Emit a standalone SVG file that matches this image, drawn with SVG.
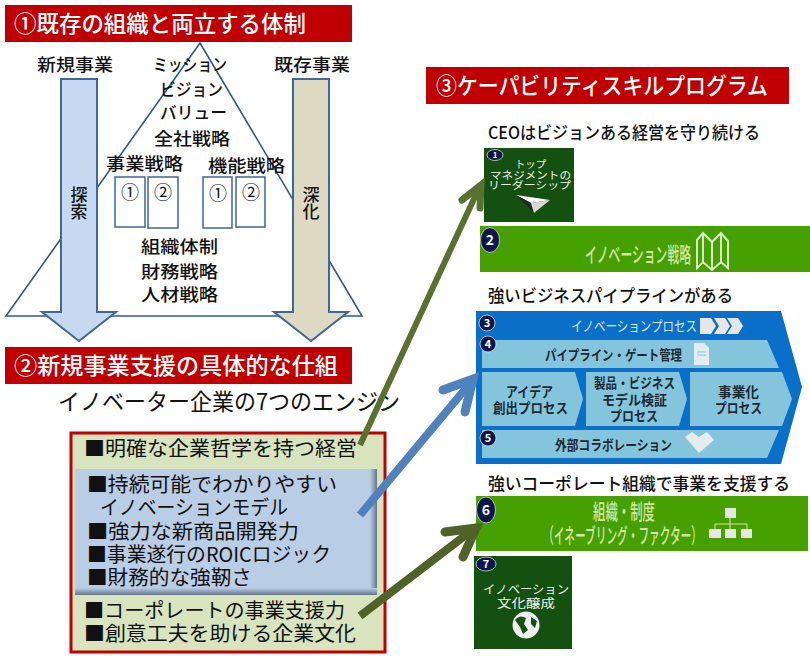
<svg xmlns="http://www.w3.org/2000/svg" width="810" height="656" viewBox="0 0 810 656">
<defs>
<style>
text{font-family:"Noto Sans CJK JP","Noto Sans",sans-serif;fill:#111}
.ban{fill:#fff;font-size:23px;font-weight:500}
.lab{font-size:17px;font-weight:500}
.cir{font-size:18px;text-anchor:middle}
.vt{font-size:17px;font-weight:500;text-anchor:middle}
.head{font-size:17px;font-weight:500}
.item{font-size:20px}
.wh{fill:#eef3ea;font-size:10.5px}
.gr{fill:#cfe6a8;font-size:21px;font-weight:500}
.bar{font-size:14px;font-weight:700;fill:#1c2a33}
.bd{fill:#fff;font-size:11px;font-weight:700;text-anchor:middle}
.box{fill:#fff;stroke:#3f6797;stroke-width:1.5}
.badge{fill:#0b1650;stroke:#cfe0c0;stroke-width:.8}
.lt{fill:#85c5dc}
.ic{fill:#e6e6e6}
.arr{fill:none}
.cap{stroke-linecap:round;stroke-linejoin:miter}
</style>
<linearGradient id="shR" x1="0" x2="1" y1="0" y2="0"><stop offset="0" stop-color="#b9cde5"/><stop offset="1" stop-color="#65748a"/></linearGradient>
<linearGradient id="shB" x1="0" x2="0" y1="0" y2="1"><stop offset="0" stop-color="#b9cde5"/><stop offset="1" stop-color="#65748a"/></linearGradient>
</defs>

<g id="banner1"><rect x="5" y="5" width="347" height="37" fill="#c00000"/><text class="ban" x="14" y="32" textLength="292" lengthAdjust="spacingAndGlyphs">①既存の組織と両立する体制</text></g>

<g id="pyramid">
<polygon points="200,43 6,316 362,316" fill="#fff" stroke="#2f5b8c" stroke-width="1.6"/>
<text class="lab" x="153" y="71" textLength="74" lengthAdjust="spacingAndGlyphs">ミッション</text>
<text class="lab" x="160" y="96" textLength="63" lengthAdjust="spacingAndGlyphs">ビジョン</text>
<text class="lab" x="160" y="119" textLength="67" lengthAdjust="spacingAndGlyphs">バリュー</text>
<text class="lab" x="154" y="145" textLength="76" lengthAdjust="spacingAndGlyphs">全社戦略</text>
<text class="lab" x="106" y="170" textLength="77" lengthAdjust="spacingAndGlyphs">事業戦略</text>
<text class="lab" x="208" y="172" textLength="77" lengthAdjust="spacingAndGlyphs">機能戦略</text>
<text class="lab" x="141" y="253" textLength="77" lengthAdjust="spacingAndGlyphs">組織体制</text>
<text class="lab" x="141" y="278" textLength="77" lengthAdjust="spacingAndGlyphs">財務戦略</text>
<text class="lab" x="141" y="301" textLength="77" lengthAdjust="spacingAndGlyphs">人材戦略</text>
</g>

<g id="strategy-boxes">
<rect class="box" x="115" y="177" width="30" height="50"/><rect class="box" x="148" y="177" width="30" height="51"/>
<rect class="box" x="203" y="177" width="29" height="51"/><rect class="box" x="236" y="177" width="29" height="50"/>
<text class="cir" x="130" y="199">①</text>
<text class="cir" x="163" y="199">②</text>
<text class="cir" x="218" y="200">①</text>
<text class="cir" x="251" y="199">②</text>
</g>

<g id="explore">
<polygon points="61,79 97,79 97,312 116,312 79,341 42,312 61,312" fill="#c6d9f1" stroke="#3f6797" stroke-width="2"/>
<text class="lab" x="37" y="71" textLength="76" lengthAdjust="spacingAndGlyphs">新規事業</text>
<text class="vt" x="79" y="201">探</text>
<text class="vt" x="79" y="218">索</text>
</g>
<g id="exploit">
<polygon points="293,79 329,79 329,312 348,312 311,341 274,312 293,312" fill="#ddd9c3" stroke="#3f6797" stroke-width="2"/>
<text class="lab" x="274" y="71" textLength="76" lengthAdjust="spacingAndGlyphs">既存事業</text>
<text class="vt" x="311" y="201">深</text>
<text class="vt" x="311" y="218">化</text>
</g>

<g id="banner2"><rect x="5" y="347" width="347" height="37" fill="#c00000"/><text class="ban" x="14" y="374" textLength="324" lengthAdjust="spacingAndGlyphs">②新規事業支援の具体的な仕組</text></g>
<text x="58" y="410" style="font-size:23px" textLength="342" lengthAdjust="spacingAndGlyphs">イノベーター企業の7つのエンジン</text>

<g id="engine-box">
<rect x="71" y="433" width="314" height="219" fill="#d7e4bd" stroke="#c00000" stroke-width="3"/>
<rect x="75" y="469" width="302" height="126" fill="#b9cde5"/>
<rect x="370" y="469" width="7" height="126" fill="url(#shR)"/>
<rect x="75" y="588" width="302" height="7" fill="url(#shB)"/>
<text class="item" x="84" y="456" textLength="273" lengthAdjust="spacingAndGlyphs">■明確な企業哲学を持つ経営</text>
<text class="item" x="87" y="492" textLength="250" lengthAdjust="spacingAndGlyphs">■持続可能でわかりやすい</text>
<text class="item" x="100" y="515" textLength="188" lengthAdjust="spacingAndGlyphs">イノベーションモデル</text>
<text class="item" x="87" y="539" textLength="212" lengthAdjust="spacingAndGlyphs">■強力な新商品開発力</text>
<text class="item" x="87" y="562" textLength="244" lengthAdjust="spacingAndGlyphs">■事業遂行のROICロジック</text>
<text class="item" x="87" y="585" textLength="165" lengthAdjust="spacingAndGlyphs">■財務的な強靭さ</text>
<text class="item" x="84" y="618" textLength="261" lengthAdjust="spacingAndGlyphs">■コーポレートの事業支援力</text>
<text class="item" x="84" y="641" textLength="272" lengthAdjust="spacingAndGlyphs">■創意工夫を助ける企業文化</text>
</g>

<g id="banner3"><rect x="426" y="67" width="363" height="37" fill="#c00000"/><text class="ban" x="436" y="94" textLength="332" lengthAdjust="spacingAndGlyphs">③ケーパビリティスキルプログラム</text></g>

<text class="head" x="488" y="139" textLength="272" lengthAdjust="spacingAndGlyphs">CEOはビジョンある経営を守り続ける</text>
<text class="head" x="488" y="302" textLength="245" lengthAdjust="spacingAndGlyphs">強いビジネスパイプラインがある</text>
<text class="head" x="488" y="490" textLength="302" lengthAdjust="spacingAndGlyphs">強いコーポレート組織で事業を支援する</text>

<g id="node1">
<rect x="484" y="148" width="90" height="74" fill="#14500f"/>
<ellipse class="badge" cx="495" cy="155" rx="8" ry="5.5"/><text class="bd" x="495" y="158" style="font-size:8px">1</text>
<text class="wh" x="515" y="168" textLength="31" lengthAdjust="spacingAndGlyphs">トップ</text>
<text class="wh" x="490" y="179" textLength="81" lengthAdjust="spacingAndGlyphs">マネジメントの</text>
<text class="wh" x="488" y="189" textLength="83" lengthAdjust="spacingAndGlyphs">リーダーシップ</text>
<polygon points="516,195 550,200 531,203" fill="#fff"/><polygon points="516,195 531,203 534,213" fill="#1f2a24"/><polygon points="550,200 531,203 534,213" fill="#d8d8d8"/>
</g>

<g id="node2">
<rect x="480" y="226" width="330" height="46" fill="#46a000"/>
<ellipse class="badge" cx="490" cy="240" rx="9.5" ry="12.5"/><text class="bd" x="490" y="245" style="font-size:14px">2</text>
<text class="gr" x="585" y="262" textLength="106" lengthAdjust="spacingAndGlyphs">イノベーション戦略</text>
<path d="M697,240 L703,233 L712,242 L721,233 L728,241 L728,268 L721,262 L712,270 L703,262 L697,268 Z M703,233 V262 M712,242 V270 M721,233 V262" fill="none" stroke="#dbe8c8" stroke-width="2"/>
</g>

<g id="node3">
<polygon points="476,311 781,311 802,387 781,464 476,464" fill="#0a6fc8"/>
<circle class="badge" cx="487" cy="323" r="8"/><text class="bd" x="487" y="327">3</text>
<text x="571" y="331" style="font-size:14px;fill:#d7e8f3" textLength="126" lengthAdjust="spacingAndGlyphs">イノベーションプロセス</text>
<polygon class="ic" points="700,318 711,318 716,326 711,334 700,334"/><polygon class="ic" points="714,318 725,318 730,326 725,334 714,334 719,326"/><polygon class="ic" points="727,318 738,318 743,326 738,334 727,334 732,326"/>
</g>

<g id="node4">
<polygon class="lt" points="482,340 767,340 779,368 482,368"/>
<circle class="badge" cx="488" cy="344" r="8"/><text class="bd" x="488" y="348">4</text>
<text class="bar" x="545" y="360" textLength="137" lengthAdjust="spacingAndGlyphs">パイプライン・ゲート管理</text>
<polygon points="694,343 704,343 709,348 709,365 694,365" fill="#e3edf1"/>
<path d="M697,352 H706 M697,355 H706" stroke="#85c5dc" stroke-width="1"/>
</g>

<g id="process1">
<polygon class="lt" points="482,372 575,372 583,399 575,426 482,426"/>
<text class="bar" x="506" y="397" textLength="47" lengthAdjust="spacingAndGlyphs">アイデア</text>
<text class="bar" x="493" y="413" textLength="75" lengthAdjust="spacingAndGlyphs">創出プロセス</text>
</g>
<g id="process2">
<polygon class="lt" points="586,372 679,372 687,399 679,426 586,426"/>
<text class="bar" x="594" y="388" textLength="81" lengthAdjust="spacingAndGlyphs">製品・ビジネス</text>
<text class="bar" x="602" y="405" textLength="65" lengthAdjust="spacingAndGlyphs">モデル検証</text>
<text class="bar" x="610" y="421" textLength="48" lengthAdjust="spacingAndGlyphs">プロセス</text>
</g>
<g id="process3">
<polygon class="lt" points="690,372 782,372 792,399 782,426 690,426"/>
<text class="bar" x="718" y="397" textLength="41" lengthAdjust="spacingAndGlyphs">事業化</text>
<text class="bar" x="715" y="413" textLength="47" lengthAdjust="spacingAndGlyphs">プロセス</text>
</g>

<g id="node5">
<polygon class="lt" points="482,430 779,430 767,458 482,458"/>
<circle class="badge" cx="488" cy="438" r="8"/><text class="bd" x="488" y="442">5</text>
<text class="bar" x="555" y="450" textLength="117" lengthAdjust="spacingAndGlyphs">外部コラボレーション</text>
<polygon points="685,437 692,432 699,437 707,432 714,440 699,453" fill="#e6ecee"/>
</g>

<g id="node6">
<rect x="476" y="496" width="332" height="55" fill="#46a000"/>
<ellipse class="badge" cx="486" cy="510" rx="9.5" ry="13"/><text class="bd" x="486" y="515" style="font-size:14px">6</text>
<text class="gr" x="593" y="519" textLength="62" lengthAdjust="spacingAndGlyphs">組織・制度</text>
<text class="gr" x="543" y="543" textLength="159" lengthAdjust="spacingAndGlyphs">（イネーブリング・ファクター）</text>
<path d="M730,518 V529 M715,529 V524 H747 V529" fill="none" stroke="#cfe6a8" stroke-width="1"/>
<rect class="ic" x="725" y="508" width="11" height="10"/><rect class="ic" x="709" y="529" width="12" height="9"/><rect class="ic" x="725" y="529" width="11" height="9"/><rect class="ic" x="741" y="529" width="11" height="9"/>
</g>

<g id="node7">
<rect x="474" y="556" width="98" height="93" fill="#14500f"/>
<ellipse class="badge" cx="486" cy="564" rx="10" ry="7"/><text class="bd" x="486" y="568">7</text>
<text class="wh" x="483" y="594" style="font-size:12px" textLength="86" lengthAdjust="spacingAndGlyphs">イノベーション</text>
<text class="wh" x="497" y="608" style="font-size:12px" textLength="58" lengthAdjust="spacingAndGlyphs">文化醸成</text>
<circle cx="526" cy="625" r="13.5" fill="#f0f0f0"/>
<path d="M515,620 Q520,614 526,618 L524,624 L528,630 L523,634 L520,627 Z M531,617 L537,621 L535,628 L531,624 Z" fill="#14500f"/>
</g>

<g id="connectors">
<g class="arr" stroke="#5a7030">
<path d="M360,445 L479,188" stroke-width="6"/>
<path class="cap" d="M462,200 L481,185 L480,208" stroke-width="7"/>
</g>
<g class="arr" stroke="#4f81bd">
<path d="M360,515 L472,381" stroke-width="8"/>
<path class="cap" d="M443,390 L473,379 L465,412" stroke-width="9"/>
</g>
<g class="arr" stroke="#4f6228">
<path d="M360,616 L475,528" stroke-width="8"/>
<path class="cap" d="M445,532 L476,528 L463,557" stroke-width="9"/>
</g>
</g>
</svg>
